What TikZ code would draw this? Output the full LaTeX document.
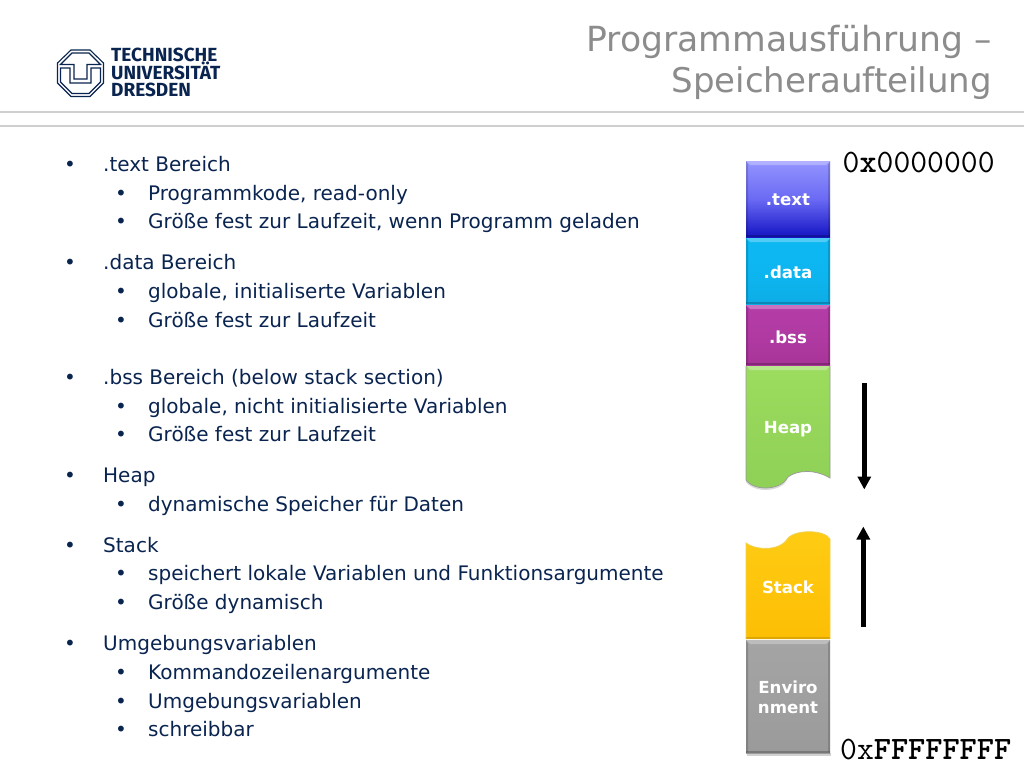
\documentclass[tikz,border=0pt]{standalone}
\usepackage{fontspec}
\setmainfont{DejaVu Sans}
\newfontfamily\logofont{Fira Sans}
\usetikzlibrary{arrows.meta}
\definecolor{navytext}{HTML}{0A2450}
\definecolor{titlegray}{HTML}{8C8C8C}
\definecolor{rulegray}{HTML}{CFCFCF}
\definecolor{cA}{HTML}{9494FF}\definecolor{cB}{HTML}{6A6AF4}\definecolor{cC}{HTML}{1414C4}
\definecolor{dA}{HTML}{0DB8F2}\definecolor{dB}{HTML}{0DB6F0}\definecolor{dC}{HTML}{0DADE6}
\definecolor{eA}{HTML}{B43CA8}\definecolor{eB}{HTML}{B03AA2}\definecolor{eC}{HTML}{A83498}
\definecolor{fA}{HTML}{A4A4A4}\definecolor{fB}{HTML}{A0A0A0}\definecolor{fC}{HTML}{9A9A9A}
\definecolor{hA}{HTML}{9CDC5E}\definecolor{hC}{HTML}{8ED056}
\definecolor{sA}{HTML}{FFCC14}\definecolor{sC}{HTML}{FCBE04}\definecolor{sE}{HTML}{F2D050}
\tikzset{
  x=1pt,y=-1pt,
  bullettext/.style={anchor=base west,inner sep=0pt,text=navytext,font=\fontsize{20}{24}\selectfont},
  titletext/.style={anchor=base east,inner sep=0pt,text=titlegray,font=\fontsize{34}{40}\selectfont},
  blocklabel/.style={inner sep=0pt,text=white,align=center,font=\bfseries\fontsize{16.6}{20.5}\selectfont},
  addr/.style={anchor=base west,inner sep=0pt,text=black,font=\ttfamily\fontsize{32.7}{36}\selectfont},
  logotext/.style={anchor=base west,inner sep=0pt,text=navytext,font=\logofont\bfseries\fontsize{19}{22}\selectfont},
  growarrow/.style={line width=4.4pt,-{Triangle[length=13pt,width=13pt]},black},
}
\newcommand{\blockbody}[5]{% y1,y2,top,mid,bottom
  \path[top color=#3,bottom color=#5,middle color=#4] (746,#1) rectangle (830,#2);
  \fill[white,opacity=.28] (746,#1) -- (830,#1) -- (826,{#1+4}) -- (750,{#1+4}) -- cycle;
  \fill[black,opacity=.16] (746,#1) -- (748,{#1+4}) -- (748,{#2-2}) -- (746,#2) -- cycle;
  \fill[black,opacity=.16] (830,#1) -- (828,{#1+4}) -- (828,{#2-2}) -- (830,#2) -- cycle;
  \fill[black,opacity=.22] (746,{#2-2}) -- (830,{#2-2}) -- (830,#2) -- (746,#2) -- cycle;
}
\newcommand{\mainentry}[3]{\node[bullettext] (#1) at (103,#2) {#3}; \node[bullettext] (#1b) at (64,#2) {•};}
\newcommand{\subentry}[3]{\node[bullettext] (#1) at (148,#2) {#3}; \node[bullettext] (#1b) at (115,#2) {•};}
\begin{document}
\begin{tikzpicture}
\useasboundingbox (0,0) rectangle (1024,768);
\fill[white] (0,0) rectangle (1024,768);
% rules
\fill[rulegray] (0,111) rectangle (1024,113);
\fill[rulegray] (0,125) rectangle (1024,127);
% title
\node[titletext,font=\fontsize{34.6}{40}\selectfont] (t1) at (992,52) {Programmausführung –};
\node[titletext] (t2) at (992,92.5) {Speicheraufteilung};
% logo
\draw[navytext,line width=1.1pt] (71,50) -- (90,50) -- (103.5,63) -- (103.5,83) -- (90,96.5) -- (71,96.5) -- (57.5,83) -- (57.5,63) -- cycle;
\draw[navytext,line width=1.1pt] (72,53) -- (89,53) -- (100.5,64.5) -- (87,64.5) -- (87,79) -- (74,79) -- (74,64.5) -- (60.5,64.5) -- cycle;
\draw[navytext,line width=1.1pt] (60.5,68) -- (70,68) -- (70,83) -- (91,83) -- (91,68) -- (100.5,68) -- (100.5,82) -- (89,93.5) -- (72,93.5) -- (60.5,82) -- cycle;
\node[logotext] (l1) at (111,62) {TECHNISCHE};
\node[logotext] (l2) at (111,79) {UNIVERSITÄT};
\node[logotext] (l3) at (111,96) {DRESDEN};
% bullets
\mainentry{a}{171}{.text Bereich}
\subentry{a1}{200}{Programmkode, read-only}
\subentry{a2}{228}{Größe fest zur Laufzeit, wenn Programm geladen}
\mainentry{b}{269}{.data Bereich}
\subentry{b1}{298}{globale, initialiserte Variablen}
\subentry{b2}{327}{Größe fest zur Laufzeit}
\mainentry{c}{384}{.bss Bereich (below stack section)}
\subentry{c1}{413}{globale, nicht initialisierte Variablen}
\subentry{c2}{441}{Größe fest zur Laufzeit}
\mainentry{d}{482}{Heap}
\subentry{d1}{511}{dynamische Speicher für Daten}
\mainentry{e}{552}{Stack}
\subentry{e1}{580}{speichert lokale Variablen und Funktionsargumente}
\subentry{e2}{609}{Größe dynamisch}
\mainentry{f}{650}{Umgebungsvariablen}
\subentry{f1}{679}{Kommandozeilenargumente}
\subentry{f2}{708}{Umgebungsvariablen}
\subentry{f3}{736}{schreibbar}
% soft shadows
\fill[black,opacity=.18] (747,753) rectangle (831,755.5);
\fill[black,opacity=.15] (746,482) .. controls (755,494) and (782,492) .. (788,479)
  .. controls (782,490) and (755,490) .. (746,480) -- cycle;
% blocks
\blockbody{161}{237}{cA}{cB}{cC}
\node[blocklabel] (btext) at (788,200) {.text};
\blockbody{238}{304}{dA}{dB}{dC}
\node[blocklabel] (bdata) at (788,272) {.data};
\blockbody{305}{365}{eA}{eB}{eC}
\node[blocklabel] (bbss) at (788,337) {.bss};
% heap
\path[top color=hA,bottom color=hC] (746,366) -- (830,366) -- (830,478)
  .. controls (815,469) and (797,470) .. (788,477)
  .. controls (782,490) and (755,492) .. (746,480) -- cycle;
\fill[white,opacity=.3] (746,366) -- (830,366) -- (826,370) -- (750,370) -- cycle;
\draw[black!40,line width=.7pt] (746,366) -- (746,480) .. controls (755,492) and (782,490) .. (788,477)
  .. controls (797,470) and (815,469) .. (830,478) -- (830,366);
\node[blocklabel] (bheap) at (788,429.5) {Heap};
% stack
\path[top color=sA,bottom color=sC] (746,543)
  .. controls (755,550) and (780,552) .. (788,538)
  .. controls (797,529) and (825,530) .. (830,539) -- (830,639) -- (746,639) -- cycle;
\draw[sE,line width=.8pt] (746,639) -- (746,543)
  .. controls (755,550) and (780,552) .. (788,538)
  .. controls (797,529) and (825,530) .. (830,539) -- (830,639);
\fill[black,opacity=.12] (746,637) rectangle (830,639);
\node[blocklabel] (bstack) at (788,587) {Stack};
% environment
\blockbody{640}{753}{fA}{fB}{fC}
\node[blocklabel] (benv) at (788,697.5) {Enviro\\nment};
% addresses
\node[addr] (a0) at (842.5,172.5) {0\textbf{x}0000000};
\node[addr] (af) at (840,759.5) {0x\textbf{FFFFFFFF}};
% arrows
\coordinate (h1) at (864.3,383);
\coordinate (h2) at (864.3,489.5);
\coordinate (s1) at (863.3,626.5);
\coordinate (s2) at (863.3,526.5);
\draw[growarrow] (h1) -- (h2);
\draw[growarrow] (s1) -- (s2);
\end{tikzpicture}
\end{document}
